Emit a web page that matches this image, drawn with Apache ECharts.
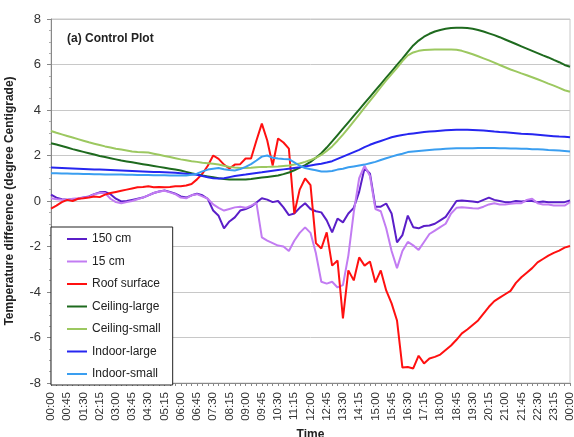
<!DOCTYPE html>
<html>
<head>
<meta charset="utf-8">
<script src="https://cdn.jsdelivr.net/npm/echarts@6/dist/echarts.min.js"></script>
<style>
html,body{margin:0;padding:0;background:#fff;}
#chart{width:574px;height:437px;}
</style>
</head>
<body>
<div id="chart"></div>
<script>
// Time categories: 00:00 to 00:00 (next day) every 15 minutes
const times = [];
for (let m = 0; m <= 24 * 60; m += 15) {
  const h = Math.floor(m / 60) % 24, mm = m % 60;
  times.push(String(h).padStart(2, '0') + ':' + String(mm).padStart(2, '0'));
}

const cm150 = [0.28,0.15,0.08,0.05,0.08,0.1,0.15,0.2,0.3,0.38,0.4,0.3,0.1,-0.02,0.0,0.05,0.1,0.15,0.25,0.35,
  0.42,0.46,0.4,0.32,0.2,0.15,0.25,0.32,0.25,0.1,-0.42,-0.65,-1.2,-0.9,-0.72,-0.42,-0.35,-0.25,-0.07,0.12,
  0.06,-0.05,0.0,-0.28,-0.62,-0.55,-0.3,-0.1,-0.35,-0.45,-0.5,-0.85,-1.38,-0.77,-0.94,-0.55,-0.3,0.4,1.45,1.2,
  -0.25,-0.25,-0.11,-0.55,-1.82,-1.5,-0.64,-1.15,-1.2,-1.1,-1.08,-1.0,-0.85,-0.7,-0.35,0.0,0.02,0.0,-0.02,-0.05,
  0.05,0.15,0.05,0.0,-0.05,-0.05,0.0,-0.02,0.0,0.0,-0.05,-0.02,-0.05,-0.05,-0.05,-0.05,0.02];

const cm15 = [0.12,0.08,0.05,0.05,0.1,0.12,0.15,0.18,0.3,0.35,0.35,0.1,-0.05,-0.1,-0.05,0.0,0.08,0.15,0.25,0.35,
  0.42,0.45,0.38,0.3,0.15,0.12,0.25,0.3,0.2,0.1,-0.15,-0.3,-0.42,-0.35,-0.28,-0.25,-0.3,-0.2,-0.08,-1.6,
  -1.74,-1.85,-1.96,-2.0,-2.2,-1.75,-1.4,-1.16,-1.4,-2.3,-3.55,-3.63,-3.55,-3.8,-3.7,-2.4,-0.5,1.0,1.55,1.1,
  -0.35,-0.45,-1.2,-2.2,-2.95,-2.2,-1.8,-1.95,-2.15,-1.8,-1.45,-1.3,-1.15,-1.0,-0.55,-0.3,-0.28,-0.3,-0.32,-0.33,
  -0.25,-0.15,-0.1,-0.15,-0.15,-0.12,-0.1,-0.1,0.05,0.1,-0.1,-0.15,-0.15,-0.2,-0.2,-0.2,-0.05];

const roof = [-0.33,-0.2,-0.05,0.05,0.0,0.1,0.12,0.15,0.2,0.17,0.28,0.35,0.4,0.45,0.5,0.55,0.6,0.62,0.65,0.6,
  0.62,0.6,0.62,0.65,0.65,0.68,0.75,0.95,1.2,1.55,2.0,1.85,1.6,1.43,1.6,1.62,1.87,1.87,2.66,3.4,
  2.66,1.56,2.75,2.57,2.3,-0.55,0.5,0.99,0.7,-1.85,-2.09,-1.38,-2.84,-2.62,-5.16,-3.05,-3.49,-2.48,-2.84,-2.66,
  -3.58,-3.05,-3.93,-4.5,-5.25,-7.32,-7.3,-7.36,-6.8,-7.14,-6.92,-6.85,-6.75,-6.55,-6.35,-6.1,-5.82,-5.65,-5.45,-5.25,
  -4.95,-4.65,-4.4,-4.25,-4.1,-3.95,-3.6,-3.35,-3.15,-2.95,-2.7,-2.55,-2.4,-2.28,-2.18,-2.05,-1.98];

const ceilLarge = [2.54,2.48,2.42,2.35,2.28,2.22,2.16,2.1,2.04,1.98,1.93,1.88,1.83,1.78,1.74,1.7,1.66,1.62,1.58,1.54,
  1.5,1.46,1.42,1.38,1.34,1.28,1.22,1.17,1.12,1.08,1.04,1.0,0.97,0.95,0.94,0.94,0.95,0.97,1.0,1.03,
  1.06,1.09,1.12,1.18,1.25,1.35,1.47,1.58,1.72,1.9,2.1,2.35,2.62,2.9,3.18,3.46,3.74,4.02,4.3,4.58,
  4.86,5.14,5.42,5.7,5.98,6.26,6.55,6.84,7.05,7.22,7.35,7.45,7.52,7.57,7.6,7.61,7.61,7.6,7.57,7.52,
  7.45,7.37,7.29,7.2,7.1,7.0,6.9,6.8,6.7,6.6,6.5,6.4,6.31,6.2,6.1,5.98,5.9];

const ceilSmall = [3.08,3.0,2.93,2.86,2.79,2.72,2.65,2.58,2.52,2.46,2.4,2.35,2.3,2.26,2.22,2.18,2.15,2.14,2.13,2.08,
  2.03,1.98,1.93,1.88,1.83,1.79,1.75,1.72,1.68,1.66,1.64,1.6,1.55,1.5,1.47,1.45,1.45,1.46,1.48,1.5,
  1.5,1.51,1.52,1.54,1.56,1.6,1.65,1.72,1.8,1.9,2.03,2.2,2.4,2.65,2.92,3.2,3.5,3.8,4.1,4.4,
  4.7,5.0,5.3,5.58,5.85,6.15,6.4,6.53,6.6,6.64,6.65,6.66,6.66,6.66,6.66,6.65,6.6,6.53,6.45,6.36,
  6.27,6.18,6.08,5.98,5.88,5.78,5.7,5.61,5.53,5.44,5.35,5.26,5.16,5.07,4.97,4.87,4.8];

const indoorLarge = [1.47,1.46,1.45,1.44,1.43,1.42,1.41,1.4,1.39,1.38,1.37,1.36,1.35,1.34,1.33,1.32,1.31,1.3,1.29,1.28,
  1.27,1.26,1.25,1.24,1.22,1.2,1.18,1.15,1.1,1.04,1.0,0.99,1.0,1.05,1.1,1.13,1.16,1.2,1.23,1.26,
  1.3,1.33,1.36,1.39,1.42,1.45,1.48,1.52,1.56,1.6,1.64,1.69,1.75,1.85,1.95,2.05,2.15,2.25,2.37,2.47,
  2.56,2.64,2.72,2.8,2.86,2.9,2.94,2.97,3.0,3.03,3.05,3.07,3.09,3.11,3.12,3.13,3.13,3.13,3.12,3.11,
  3.1,3.08,3.05,3.03,3.02,3.0,2.98,2.96,2.95,2.93,2.91,2.89,2.87,2.85,2.83,2.82,2.8];

const indoorSmall = [1.22,1.22,1.21,1.21,1.2,1.2,1.19,1.19,1.18,1.18,1.17,1.17,1.16,1.16,1.15,1.15,1.14,1.14,1.14,1.13,
  1.13,1.13,1.12,1.12,1.12,1.12,1.15,1.2,1.3,1.38,1.42,1.45,1.4,1.36,1.34,1.4,1.5,1.62,1.78,1.95,
  2.0,1.9,1.87,1.85,1.84,1.7,1.55,1.45,1.4,1.35,1.3,1.3,1.32,1.38,1.42,1.48,1.52,1.56,1.6,1.66,
  1.72,1.8,1.88,1.95,2.02,2.08,2.15,2.18,2.2,2.22,2.24,2.26,2.28,2.3,2.31,2.32,2.32,2.32,2.32,2.33,
  2.33,2.33,2.33,2.32,2.32,2.31,2.31,2.3,2.3,2.28,2.27,2.26,2.24,2.23,2.22,2.2,2.18];

const seriesNames = ['150 cm','15 cm','Roof surface','Ceiling-large','Ceiling-small','Indoor-large','Indoor-small'];
const seriesData = [cm150, cm15, roof, ceilLarge, ceilSmall, indoorLarge, indoorSmall];
const seriesColors = ['#5a1ec8','#c27cf2','#ff1010','#1e6a1e','#9cc860','#2626f0','#3a9ef0'];

const chart = echarts.init(document.getElementById('chart'), null, {renderer: 'canvas'});
chart.setOption({
  animation: false,
  backgroundColor: '#ffffff',
  title: {
    text: '(a) Control Plot',
    left: 62, top: 28,
    textStyle: {fontFamily: 'Arial, Liberation Sans', fontSize: 12, fontWeight: 'bold', color: '#222'}
  },
  grid: {left: 51, right: 4, top: 19, bottom: 54, show: true, borderColor: '#c8c8c8', borderWidth: 1,
         containLabel: false, outerBoundsMode: 'none'},
  legend: {
    orient: 'vertical',
    left: 51, top: 227,
    padding: [5, 12, 4, 16],
    itemGap: 8.5,
    icon: 'rect',
    itemWidth: 20, itemHeight: 2,
    backgroundColor: '#ffffff',
    borderColor: '#222', borderWidth: 1,
    textStyle: {fontFamily: 'Arial, Liberation Sans', fontSize: 12, color: '#222', lineHeight: 14},
    data: seriesNames
  },
  xAxis: {
    type: 'category',
    data: times,
    boundaryGap: false,
    name: 'Time',
    nameLocation: 'middle',
    nameGap: 45,
    nameTextStyle: {fontFamily: 'Arial, Liberation Sans', fontSize: 12, fontWeight: 'bold', color: '#222'},
    axisLine: {onZero: false, lineStyle: {color: '#888', width: 1}},
    axisTick: {show: true, interval: 0, length: 3, lineStyle: {color: '#888'}},
    axisLabel: {interval: 2, rotate: 90, fontFamily: 'Arial, Liberation Sans', fontSize: 11.5, color: '#333', margin: 9},
    splitLine: {show: false}
  },
  yAxis: {
    type: 'value',
    min: -8, max: 8, interval: 2,
    name: 'Temperature difference (degree Centigrade)',
    nameLocation: 'middle',
    nameGap: 35,
    nameTextStyle: {fontFamily: 'Arial, Liberation Sans', fontSize: 12, fontWeight: 'bold', color: '#222'},
    axisLine: {show: true, lineStyle: {color: '#888'}},
    axisTick: {show: true, length: 4, lineStyle: {color: '#888'}},
    minorTick: {show: true, splitNumber: 4, length: 2, lineStyle: {color: '#aaa'}},
    axisLabel: {fontFamily: 'Arial, Liberation Sans', fontSize: 13, color: '#333', margin: 10},
    splitLine: {show: true, lineStyle: {color: '#c8c8c8', width: 1}}
  },
  series: seriesNames.map((n, k) => ({
    name: n,
    type: 'line',
    data: seriesData[k],
    symbol: 'none',
    lineStyle: {width: 2, color: seriesColors[k]},
    itemStyle: {color: seriesColors[k]},
    z: 2
  }))
});
</script>
</body>
</html>
